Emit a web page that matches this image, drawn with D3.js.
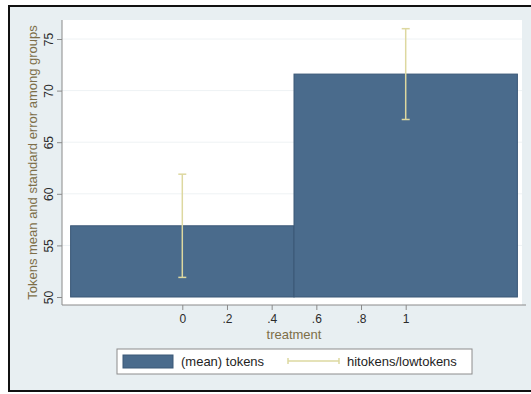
<!DOCTYPE html>
<html>
<head>
<meta charset="utf-8">
<script src="https://cdn.jsdelivr.net/npm/d3@7"></script>
<style>
  html, body { margin: 0; padding: 0; background: #ffffff; }
  svg { display: block; font-family: "Liberation Sans", Arial, Helvetica, sans-serif; }
</style>
</head>
<body>
<svg id="chart" width="531" height="394"></svg>
<script>
// Group means of tokens by treatment, with upper/lower standard-error bounds
const treatment = [0, 1];
const meanTokens = [56.9, 71.6];
const hiTokens = [61.9, 76.0];
const loTokens = [51.9, 67.2];

const xTicks = [0, 0.2, 0.4, 0.6, 0.8, 1];
const xTickLabels = ["0", ".2", ".4", ".6", ".8", "1"];
const yTicks = [50, 55, 60, 65, 70, 75];

const yTitle = "Tokens mean and standard error among groups";
const xTitle = "treatment";
const legendLabels = ["(mean) tokens", "hitokens/lowtokens"];

const barFill = "#4a6b8c";
const barStroke = "#3b5877";
const capColor = "#ddd8a0";
const titleColor = "#7d6e48";
const bgColor = "#e8eff2";

const svg = d3.select("#chart");

// outer graph region with dark frame
svg.append("rect").attr("x", 9).attr("y", 6).attr("width", 540).attr("height", 385)
  .attr("fill", bgColor).attr("stroke", "#111").attr("stroke-width", 2);

// plot region
const plot = { left: 62, right: 522, top: 20, bottom: 305 };
svg.append("rect")
  .attr("x", plot.left).attr("y", plot.top)
  .attr("width", plot.right - plot.left).attr("height", plot.bottom - plot.top)
  .attr("fill", "#ffffff");

const x = d3.scaleLinear().domain([0, 1]).range([182.3, 405.7]);
const y = d3.scaleLinear().domain([50, 75]).range([297, 39]);

// horizontal grid lines
svg.append("g").selectAll("line").data(yTicks.slice(1)).join("line")
  .attr("x1", plot.left).attr("x2", plot.right)
  .attr("y1", d => y(d)).attr("y2", d => y(d))
  .attr("stroke", "#eef2f4").attr("stroke-width", 1);

// bars spanning each treatment value +/- 0.5
svg.append("g").selectAll("rect").data(treatment).join("rect")
  .attr("x", d => x(d - 0.5))
  .attr("width", d => x(d + 0.5) - x(d - 0.5))
  .attr("y", (d, i) => y(meanTokens[i]))
  .attr("height", (d, i) => y(50) - y(meanTokens[i]))
  .attr("fill", barFill).attr("stroke", barStroke).attr("stroke-width", 1);

// error bars with caps
const caps = svg.append("g").attr("stroke", capColor).attr("stroke-width", 1.5).attr("fill", "none");
treatment.forEach((t, i) => {
  const cx = x(t);
  caps.append("line").attr("x1", cx).attr("x2", cx).attr("y1", y(hiTokens[i])).attr("y2", y(loTokens[i]));
  caps.append("line").attr("x1", cx - 4).attr("x2", cx + 4).attr("y1", y(hiTokens[i])).attr("y2", y(hiTokens[i]));
  caps.append("line").attr("x1", cx - 4).attr("x2", cx + 4).attr("y1", y(loTokens[i])).attr("y2", y(loTokens[i]));
});

// y axis
const yAxis = svg.append("g").attr("transform", `translate(${plot.left},0)`)
  .call(d3.axisLeft(y).tickValues(yTicks).tickSize(5).tickPadding(4));
yAxis.select(".domain").remove();
yAxis.append("line").attr("x1", 0).attr("x2", 0).attr("y1", plot.top).attr("y2", plot.bottom)
  .attr("stroke", "#8a8a8a");
yAxis.selectAll(".tick line").attr("stroke", "#8a8a8a");
yAxis.selectAll(".tick text")
  .attr("x", null).attr("dy", null)
  .attr("transform", "translate(-9,0) rotate(-90)")
  .attr("text-anchor", "middle")
  .attr("font-size", 12).attr("fill", "#2b2b2b");

// x axis
const xAxis = svg.append("g").attr("transform", `translate(0,${plot.bottom})`)
  .call(d3.axisBottom(x).tickValues(xTicks).tickFormat((d, i) => xTickLabels[i]).tickSize(5).tickPadding(4));
xAxis.select(".domain").remove();
xAxis.append("line").attr("x1", plot.left).attr("x2", plot.right + 4).attr("y1", 0).attr("y2", 0)
  .attr("stroke", "#8a8a8a");
xAxis.selectAll(".tick line").attr("stroke", "#8a8a8a");
xAxis.selectAll(".tick text").attr("font-size", 12).attr("fill", "#2b2b2b");

// axis titles
svg.append("text")
  .attr("transform", `translate(37,${(plot.top + plot.bottom) / 2}) rotate(-90)`)
  .attr("text-anchor", "middle").attr("font-size", 13).attr("fill", titleColor)
  .text(yTitle);
svg.append("text")
  .attr("x", x(0.5)).attr("y", 339)
  .attr("text-anchor", "middle").attr("font-size", 13).attr("fill", titleColor)
  .text(xTitle);

// legend
const legend = svg.append("g");
legend.append("rect").attr("x", 117).attr("y", 349).attr("width", 355).attr("height", 25)
  .attr("fill", "#ffffff").attr("stroke", "#8c8c8c").attr("stroke-width", 1);
legend.append("rect").attr("x", 123).attr("y", 355).attr("width", 50).attr("height", 13)
  .attr("fill", barFill).attr("stroke", barStroke);
legend.append("text").attr("x", 181).attr("y", 366).attr("font-size", 13).attr("fill", "#1e1e1e")
  .text(legendLabels[0]);
const lk = legend.append("g").attr("stroke", capColor).attr("stroke-width", 1.5);
lk.append("line").attr("x1", 288).attr("x2", 339).attr("y1", 361).attr("y2", 361);
lk.append("line").attr("x1", 288).attr("x2", 288).attr("y1", 358).attr("y2", 364);
lk.append("line").attr("x1", 339).attr("x2", 339).attr("y1", 358).attr("y2", 364);
legend.append("text").attr("x", 347).attr("y", 366).attr("font-size", 13).attr("fill", "#1e1e1e")
  .text(legendLabels[1]);
</script>
</body>
</html>
